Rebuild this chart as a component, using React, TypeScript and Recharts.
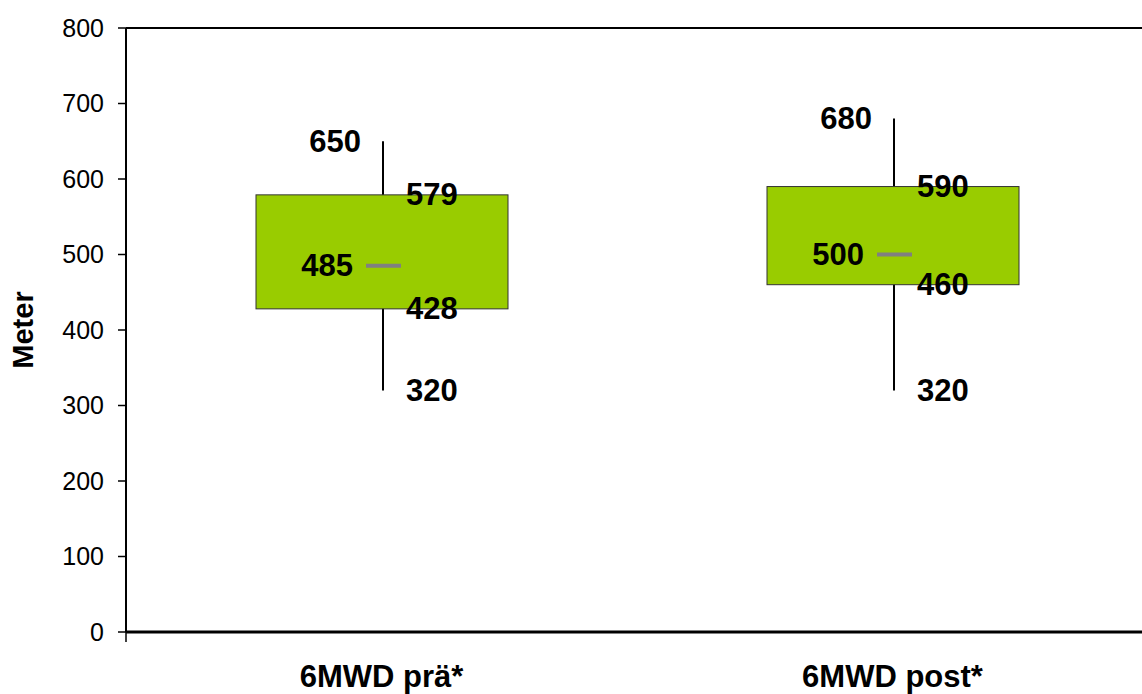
import { Bar, ComposedChart, ReferenceLine, XAxis, YAxis } from "recharts";

// Kategorien und Kennwerte der Boxplots (6-Minuten-Gehtest)
const categories = ["6MWD prä*", "6MWD post*"];
const minValues = [320, 320];
const q1Values = [428, 460];
const medianValues = [485, 500];
const q3Values = [579, 590];
const maxValues = [650, 680];

const yTicks = [0, 100, 200, 300, 400, 500, 600, 700, 800];
const edgeTicks = [0, 1, 2];

const data = categories.map((name, i) => ({
  name,
  min: minValues[i],
  median: medianValues[i],
  max: maxValues[i],
  box: [q1Values[i], q3Values[i]],
}));

const FONT = "Arial, 'Liberation Sans', sans-serif";

function BoxShape(props: any) {
  const { x, y, width, height, payload } = props;
  const [lo, hi] = payload.box as number[];
  const top = Math.min(y, y + height);
  const h = Math.abs(height);
  const k = h / (hi - lo);
  const py = (v: number) => top + h - (v - lo) * k;
  const cx = x + width / 2 + 1;
  const label = {
    fontFamily: FONT,
    fontSize: 31,
    fontWeight: 700,
    fill: "#000",
    dominantBaseline: "central" as const,
  };
  return (
    <g>
      <line x1={cx} x2={cx} y1={py(payload.min)} y2={py(payload.max)} stroke="#000" strokeWidth={2} />
      <rect x={x} y={top} width={width} height={h} fill="#99cc00" stroke="#333" strokeWidth={1} />
      <line
        x1={cx - 17}
        x2={cx + 18}
        y1={py(payload.median)}
        y2={py(payload.median)}
        stroke="#808080"
        strokeWidth={4}
      />
      <text {...label} x={cx - 22} y={py(payload.max)} textAnchor="end">
        {payload.max}
      </text>
      <text {...label} x={cx + 23} y={py(hi)} textAnchor="start">
        {hi}
      </text>
      <text {...label} x={cx - 30} y={py(payload.median)} textAnchor="end">
        {payload.median}
      </text>
      <text {...label} x={cx + 23} y={py(lo)} textAnchor="start">
        {lo}
      </text>
      <text {...label} x={cx + 23} y={py(payload.min)} textAnchor="start">
        {payload.min}
      </text>
    </g>
  );
}

function CategoryTick(props: any) {
  const { x, y, payload } = props;
  return (
    <text
      x={x}
      y={y + 46}
      textAnchor="middle"
      fontFamily={FONT}
      fontSize={31}
      fontWeight={700}
      fill="#000"
    >
      {payload.value}
    </text>
  );
}

export default function App() {
  return (
    <div
      style={{
        position: "absolute",
        left: 0,
        top: 0,
        width: 1142,
        height: 694,
        overflow: "hidden",
        background: "#fff",
      }}
    >
      <ComposedChart
        width={1150}
        height={694}
        data={data}
        margin={{ top: 28, right: 2, bottom: 0, left: 26 }}
      >
        <XAxis
          xAxisId="z"
          dataKey="name"
          height={61}
          axisLine={false}
          tickLine={false}
          interval={0}
          tick={<CategoryTick />}
        />
        <XAxis
          xAxisId="a"
          type="number"
          domain={[0, 2]}
          ticks={edgeTicks}
          height={1}
          tick={() => <g />}
          tickSize={10}
          tickLine={{ stroke: "#000", strokeWidth: 1.5 }}
          axisLine={{ stroke: "#000", strokeWidth: 3 }}
        />
        <YAxis
          domain={[0, 800]}
          ticks={yTicks}
          width={100}
          interval={0}
          tickSize={8}
          tickMargin={14}
          tickLine={{ stroke: "#000", strokeWidth: 1.5 }}
          axisLine={{ stroke: "#000", strokeWidth: 2 }}
          tick={{ fontFamily: FONT, fontSize: 25, fill: "#000" }}
          label={{
            content: (p: any) => (
              <text
                x={23}
                y={p.viewBox.y + p.viewBox.height / 2}
                transform={`rotate(-90, 23, ${p.viewBox.y + p.viewBox.height / 2})`}
                textAnchor="middle"
                dominantBaseline="central"
                fontFamily={FONT}
                fontSize={29}
                fontWeight={700}
                fill="#000"
              >
                Meter
              </text>
            ),
          }}
        />
        <ReferenceLine xAxisId="z" y={800} stroke="#000" strokeWidth={2} />
        <Bar
          xAxisId="z"
          dataKey="box"
          barSize={252}
          shape={<BoxShape />}
          isAnimationActive={false}
        />
      </ComposedChart>
    </div>
  );
}
